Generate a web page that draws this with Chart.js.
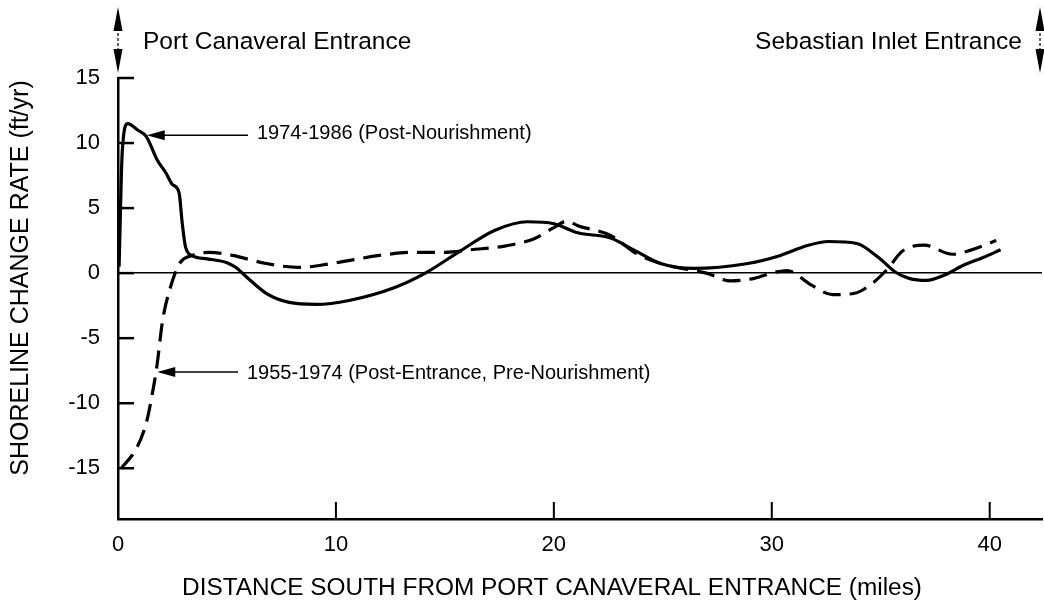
<!DOCTYPE html>
<html><head><meta charset="utf-8">
<script src="https://cdn.jsdelivr.net/npm/chart.js@4/dist/chart.umd.min.js"></script>
<style>html,body{margin:0;padding:0;background:#fff;}#wrap{width:1044px;height:605px;position:relative;}</style>
</head><body><div id="wrap"><canvas id="c" width="1044" height="605"></canvas></div>
<script>
// 1974-1986 (Post-Nourishment) — solid
const postNourishX = [0.05, 0.2, 0.45, 0.9, 1.3, 1.8, 2.2, 2.5, 2.8, 2.95, 3.1, 3.4, 4.1, 5.0, 5.4, 5.9, 6.8, 7.85, 9.1, 10.6, 12.7, 14.1, 15.75, 17.3, 18.8, 20.0, 21.1, 22.6, 23.7, 24.9, 26.4, 28.9, 30.4, 31.6, 32.6, 33.9, 34.9, 35.7, 36.3, 37.1, 37.9, 38.8, 39.7, 40.5];
const postNourishY = [0.5, 9.5, 11.5, 11.0, 10.5, 8.7, 7.7, 6.8, 6.2, 3.8, 2.0, 1.35, 1.1, 0.8, 0.45, -0.3, -1.55, -2.25, -2.4, -2.1, -1.1, 0.0, 1.75, 3.3, 3.95, 3.8, 3.1, 2.7, 1.75, 0.74, 0.36, 0.74, 1.36, 2.1, 2.43, 2.28, 1.2, 0.05, -0.4, -0.56, -0.17, 0.6, 1.2, 1.8];
// 1955-1974 (Post-Entrance, Pre-Nourishment) — dashed
const preNourishX = [0.15, 0.87, 1.3, 1.55, 1.78, 2.05, 2.37, 2.83, 3.4, 4.2, 5.25, 6.8, 8.3, 9.8, 12.0, 13.5, 15.0, 16.2, 17.8, 19.1, 20.0, 20.6, 21.1, 22.6, 23.8, 24.9, 26.4, 27.0, 28.1, 29.2, 30.1, 30.7, 31.8, 32.8, 33.8, 34.6, 35.3, 36.0, 37.0, 38.3, 39.1, 40.3];
const preNourishY = [-15.0, -13.4, -11.5, -9.5, -7.2, -3.6, -1.3, 0.75, 1.36, 1.6, 1.36, 0.74, 0.44, 0.74, 1.36, 1.6, 1.6, 1.8, 2.1, 2.65, 3.5, 4.0, 3.65, 2.9, 1.5, 0.74, 0.2, 0.0, -0.6, -0.4, 0.05, 0.2, -0.9, -1.65, -1.55, -0.8, 0.3, 1.7, 2.15, 1.45, 1.75, 2.5];

const xTickValues = [0, 10, 20, 30, 40];
const yTickValues = [-15, -10, -5, 0, 5, 10, 15];
const seriesLabels = ['1974-1986 (Post-Nourishment)', '1955-1974 (Post-Entrance, Pre-Nourishment)'];
const topLabels = ['Port Canaveral Entrance', 'Sebastian Inlet Entrance'];
const xTitle = 'DISTANCE SOUTH FROM PORT CANAVERAL ENTRANCE (miles)';
const yTitle = 'SHORELINE CHANGE RATE (ft/yr)';

const FONT = '"Liberation Sans", Arial, Helvetica, sans-serif';
const toPts = (xs, ys) => xs.map((x, i) => ({x: x, y: ys[i]}));

function arrowHead(ctx, tx, ty, dir, len, half) {
  const bx = tx - dir[0]*len, by = ty - dir[1]*len;
  const px = -dir[1], py = dir[0];
  ctx.beginPath();
  ctx.moveTo(tx, ty);
  ctx.lineTo(bx + px*half, by + py*half);
  ctx.lineTo(bx - px*half, by - py*half);
  ctx.closePath();
  ctx.fill();
}

const decor = {
  id: 'decor',
  afterDraw(chart) {
    const {ctx, chartArea: a, scales: {x, y}} = chart;
    ctx.save();
    ctx.strokeStyle = '#000'; ctx.fillStyle = '#000';
    // inward tick marks
    ctx.lineWidth = 2.5;
    yTickValues.forEach(v => {
      const py = y.getPixelForValue(v);
      ctx.beginPath(); ctx.moveTo(a.left, py); ctx.lineTo(a.left + 16, py); ctx.stroke();
    });
    ctx.lineWidth = 2;
    xTickValues.forEach(v => {
      if (v === 0) return;
      const px = x.getPixelForValue(v);
      ctx.beginPath(); ctx.moveTo(px, a.bottom); ctx.lineTo(px, a.bottom - 17); ctx.stroke();
    });
    // top double arrows
    [x.getPixelForValue(0), 1040].forEach(ax => {
      ctx.lineWidth = 1.2;
      ctx.setLineDash([3, 2]);
      ctx.beginPath(); ctx.moveTo(ax, 28); ctx.lineTo(ax, 54); ctx.stroke();
      ctx.setLineDash([]);
      arrowHead(ctx, ax, 7, [0, -1], 24, 4.5);
      arrowHead(ctx, ax, 73, [0, 1], 24, 4.5);
    });
    // top labels
    ctx.textBaseline = 'middle';
    ctx.font = '24.5px ' + FONT;
    ctx.textAlign = 'left';
    ctx.fillText(topLabels[0], 143, 42);
    ctx.textAlign = 'right';
    ctx.fillText(topLabels[1], 1022, 42);
    // callouts
    ctx.font = '20px ' + FONT;
    ctx.textAlign = 'left';
    ctx.lineWidth = 1.5;
    const c1x = x.getPixelForValue(1.32), c1y = y.getPixelForValue(10.6);
    ctx.beginPath(); ctx.moveTo(248, c1y); ctx.lineTo(c1x + 15, c1y); ctx.stroke();
    arrowHead(ctx, c1x, c1y, [-1, 0], 18, 5);
    ctx.fillText(seriesLabels[0], 257, c1y - 2);
    const c2x = x.getPixelForValue(1.8), c2y = y.getPixelForValue(-7.6);
    ctx.beginPath(); ctx.moveTo(238, c2y); ctx.lineTo(c2x + 15, c2y); ctx.stroke();
    arrowHead(ctx, c2x, c2y, [-1, 0], 18, 5);
    ctx.fillText(seriesLabels[1], 247, c2y + 1);
    // axis titles
    ctx.textAlign = 'center';
    ctx.font = '24.4px ' + FONT;
    ctx.fillText(xTitle, 552, 588);
    ctx.save();
    ctx.translate(21, 278);
    ctx.rotate(-Math.PI / 2);
    ctx.font = '25px ' + FONT;
    ctx.fillText(yTitle, 0, 0);
    ctx.restore();
    ctx.restore();
  }
};

new Chart(document.getElementById('c'), {
  type: 'line',
  data: {
    datasets: [
      {label: seriesLabels[0], data: toPts(postNourishX, postNourishY), borderColor: '#000', borderWidth: 3.2,
       pointRadius: 0, fill: false, cubicInterpolationMode: 'monotone'},
      {label: seriesLabels[1], data: toPts(preNourishX, preNourishY), borderColor: '#000', borderWidth: 3.2,
       borderDash: [18, 9], pointRadius: 0, fill: false, cubicInterpolationMode: 'monotone'}
    ]
  },
  options: {
    responsive: false, animation: false, devicePixelRatio: 1,
    layout: {padding: {left: 0, top: 78, right: 2, bottom: 0}},
    plugins: {legend: {display: false}, tooltip: {enabled: false}},
    scales: {
      x: {
        type: 'linear', min: 0, max: 42.4,
        afterBuildTicks: s => { s.ticks = xTickValues.map(v => ({value: v})); },
        afterFit: s => { s.height = 86; },
        grid: {display: true, drawOnChartArea: false, drawTicks: false, color: 'rgba(0,0,0,0)'},
        border: {display: true, color: '#000', width: 2.5},
        ticks: {color: '#000', font: {family: FONT, size: 22}, padding: 13, maxRotation: 0},
        title: {display: false}
      },
      y: {
        type: 'linear', min: -18.9, max: 15,
        afterBuildTicks: s => { s.ticks = yTickValues.map(v => ({value: v})); },
        afterFit: s => { s.width = 118; },
        grid: {display: true, drawTicks: false, lineWidth: 1.5,
               color: c => (c.tick && c.tick.value === 0) ? '#000' : 'rgba(0,0,0,0)'},
        border: {display: true, color: '#000', width: 2.5},
        ticks: {color: '#000', font: {family: FONT, size: 22}, padding: 18},
        title: {display: false}
      }
    }
  },
  plugins: [decor]
});
</script></body></html>
